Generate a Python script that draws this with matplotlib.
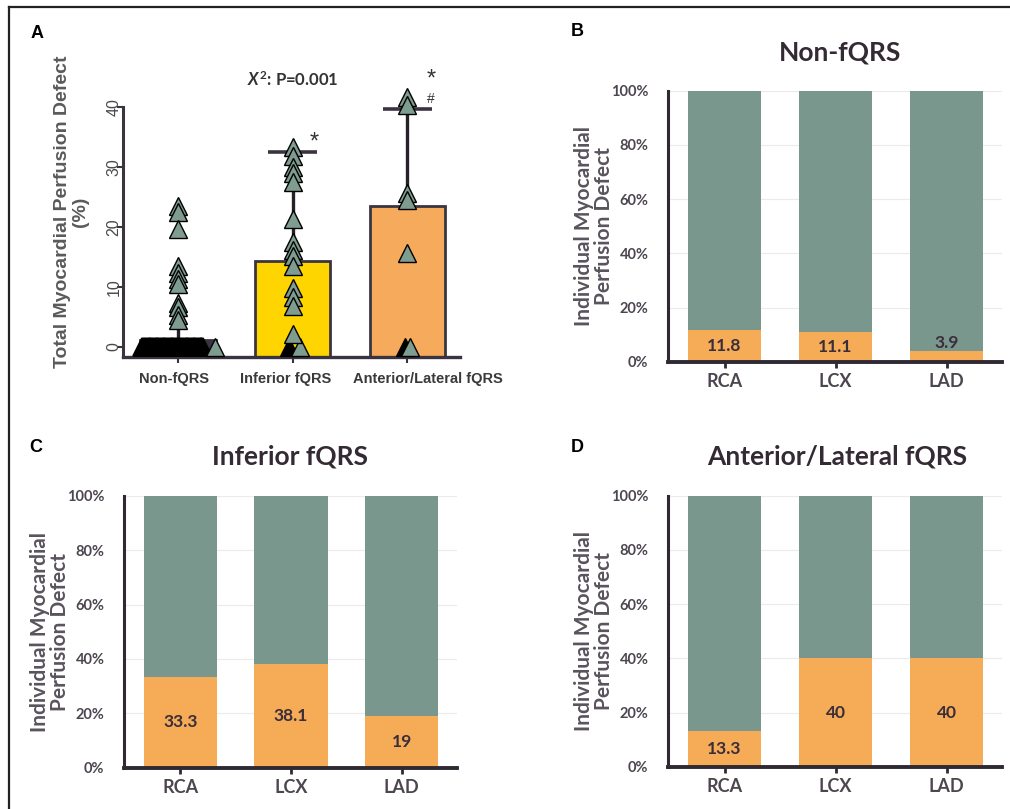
import numpy as np
import matplotlib
matplotlib.use("Agg")
import matplotlib.pyplot as plt
from matplotlib.lines import Line2D
from matplotlib.transforms import ScaledTranslation

plt.rcParams['mathtext.fontset'] = 'custom'
plt.rcParams['mathtext.it'] = 'Lato:italic:bold'
plt.rcParams['mathtext.rm'] = 'Lato:bold'

# ---------------- data ----------------
groups_a = ["Non-fQRS", "Inferior fQRS", "Anterior/Lateral fQRS"]
bar_means = [1.2, 14.4, 23.5]
bar_upper = [3.6, 32.6, 39.7]
bar_colors_a = ["#3b3440", "#FFD500", "#F6AA5B"]

non_fqrs_zero_count = 70
non_fqrs_values = [23.5, 22.5, 19.7, 13.5, 12.4, 11.3, 10.5, 7.4, 6.6, 5.4, 4.5]
inferior_zero_count = 2
inferior_values = [33.4, 31.8, 30.1, 29.0, 27.6, 21.3, 17.6, 16.2, 15.1, 13.5,
                   9.8, 8.4, 6.9, 2.1]
anterior_zero_count = 2
anterior_values = [41.7, 40.4, 25.7, 24.5, 15.7]

arteries = ["RCA", "LCX", "LAD"]
non_fqrs_pct = [11.8, 11.1, 3.9]
inferior_pct = [33.3, 38.1, 19]
anterior_pct = [13.3, 40, 40]
pct_ticks = [0, 20, 40, 60, 80, 100]

GREEN = "#7A978D"
ORANGE = "#F6AB57"
TRI = "#7E9C90"
DARK = "#2f2933"

W, H = 1010, 809
fig = plt.figure(figsize=(W / 100, H / 100), dpi=100)


def rect(l, r, top, bottom):
    return [l / W, 1 - bottom / H, (r - l) / W, (bottom - top) / H]


# border lines
fig.add_artist(Line2D([9 / W, 1], [1 - 7 / H, 1 - 7 / H], color="#222", lw=1.6))
fig.add_artist(Line2D([9 / W, 9 / W], [0, 1 - 7 / H], color="#222", lw=1.6))

# ---------------- panel A ----------------
ybot = -1.67
ytop = 44.0
axA = fig.add_axes(rect(123, 460, 347.3 - ytop * 6, 357))
xa = np.arange(len(groups_a))
axA.set_xlim(-0.48, 2.46)
axA.set_ylim(ybot, ytop)
axA.bar(xa, [m - ybot for m in bar_means], bottom=ybot, width=0.655,
        color=bar_colors_a, edgecolor="#3b3440", linewidth=2.0, zorder=2)
# error bars (upper only)
for i in range(3):
    axA.vlines(xa[i], bar_means[i], bar_upper[i], color="#262128",
               lw=2.4, zorder=3)
    if i > 0:
        axA.hlines(bar_upper[i], xa[i] - 0.215, xa[i] + 0.215,
                   color="#3b3440", lw=2.6, zorder=3)

ms = 13.5
# Non-fQRS zeros: dense overlapping pile
offs = np.linspace(-0.31, 0.22, non_fqrs_zero_count)
axA.plot(xa[0] + offs, np.zeros(non_fqrs_zero_count), '^', ms=ms,
         mfc="black", mec="black", mew=1.2, zorder=4, clip_on=False)
axA.plot([xa[0] + 0.32], [0], '^', ms=ms, mfc=TRI, mec="black", mew=1.0,
         zorder=5, clip_on=False)
axA.plot(np.full(len(non_fqrs_values), xa[0]), non_fqrs_values, '^', ms=ms,
         mfc=TRI, mec="black", mew=1.0, zorder=5, clip_on=False)
# Inferior
axA.plot([xa[1] - 0.03], [0], '^', ms=ms, mfc="black", mec="black", zorder=4)
axA.plot([xa[1] + 0.06], [0], '^', ms=ms, mfc=TRI, mec="black", mew=1.0, zorder=5)
axA.plot(np.full(len(inferior_values), xa[1]), inferior_values, '^', ms=ms,
         mfc=TRI, mec="black", mew=1.0, zorder=5, clip_on=False)
# Anterior
axA.plot([xa[2] - 0.02], [0], '^', ms=ms, mfc="black", mec="black", zorder=4)
axA.plot([xa[2] + 0.02], [0], '^', ms=ms, mfc=TRI, mec="black", mew=1.0, zorder=5)
axA.plot(np.full(len(anterior_values), xa[2]), anterior_values, '^', ms=ms,
         mfc=TRI, mec="black", mew=1.0, zorder=5, clip_on=False)

for s in ["top", "right"]:
    axA.spines[s].set_visible(False)
axA.spines["left"].set_bounds(ybot, 40)
axA.spines["left"].set_linewidth(2.2)
axA.spines["bottom"].set_linewidth(2.4)
axA.spines["left"].set_color("#3b3440")
axA.spines["bottom"].set_color("#3b3440")
axA.set_yticks([0, 10, 20, 30, 40])
axA.set_yticklabels(["0", "10", "20", "30", "40"], rotation=90, va="center",
                    family="Liberation Sans", fontsize=11.5, color="#4a4a4a")
axA.set_xticks(xa)
axA.set_xticklabels(groups_a, family="Liberation Sans", fontsize=10.5,
                    fontweight="bold", color="#3a3a3a")
axA.tick_params(axis="y", length=4, width=1.5, color="#3b3440", pad=-3)
axA.tick_params(axis="x", length=4, width=1.5, color="#3b3440", pad=7)
# offsets of x labels like the reference
shifts = [-4, -7, 21]
for lab, dx in zip(axA.get_xticklabels(), shifts):
    lab.set_transform(lab.get_transform() +
                      ScaledTranslation(dx / 100, 0, fig.dpi_scale_trans))
axA.set_ylabel("Total Myocardial Perfusion Defect\n(%)", family="Liberation Sans",
               fontsize=14, fontweight="bold", color="#5a5a5a",
               linespacing=1.1)
axA.yaxis.set_label_coords(-0.10, 0.53)
axA.set_facecolor("none")

fig.text(293 / W, 1 - 80 / H, r"$X^{2}$: P=0.001", ha="center", va="center",
         family="Lato", fontweight="bold", fontsize=12, color="#333333")
fig.text(314 / W, 1 - 143 / H, "*", ha="center", va="center",
         family="Liberation Sans", fontsize=17, color="#333333")
fig.text(431 / W, 1 - 80 / H, "*", ha="center", va="center",
         family="Liberation Sans", fontsize=17, color="#333333")
fig.text(431 / W, 1 - 99 / H, "#", ha="center", va="center",
         family="Liberation Sans", fontsize=10, color="#333333")
fig.text(37 / W, 1 - 34 / H, "A", ha="center", va="center",
         family="Liberation Sans", fontweight="bold", fontsize=13)


# ---------------- stacked panels ----------------
def stacked(box, pct, title, title_xy, label, label_xy, ylab_x):
    ax = fig.add_axes(rect(*box))
    x = np.arange(len(arteries))
    pct = np.array(pct, dtype=float)
    ax.set_xlim(-0.51, 2.5)
    ax.set_ylim(0, 100)
    ax.bar(x, pct, width=0.665, color=ORANGE, zorder=2)
    ax.bar(x, 100 - pct, bottom=pct, width=0.665, color=GREEN, zorder=2)
    for xi, v in zip(x, pct):
        ypos = v / 2 if v / 2 > 5 else v + 3
        txt = f"{v:g}"
        ax.text(xi, ypos, txt, ha="center", va="center", family="Lato",
                fontweight="bold", fontsize=12.5, color="#3a2e3a", zorder=3)
    ax.set_yticks(pct_ticks)
    ax.set_yticklabels([f"{t}%" for t in pct_ticks], family="Lato",
                       fontsize=10.5, fontweight="bold", color="#4d4650")
    ax.set_xticks(x)
    ax.set_xticklabels(arteries, family="Lato", fontsize=13,
                       fontweight="bold", color="#4d4650")
    ax.tick_params(axis="y", length=0, pad=14)
    ax.tick_params(axis="x", length=4, width=2, color=DARK, pad=4)
    ax.grid(axis="y", color="#efeaea", lw=0.8, zorder=0)
    for s in ["top", "right"]:
        ax.spines[s].set_visible(False)
    ax.spines["left"].set_linewidth(2.2)
    ax.spines["bottom"].set_linewidth(2.8)
    ax.spines["left"].set_color(DARK)
    ax.spines["bottom"].set_color(DARK)
    ax.set_axisbelow(True)
    fig.text(ylab_x / W, 1 - (box[2] + box[3]) / 2 / H,
             "Individual Myocardial\nPerfusion Defect", rotation=90,
             ha="center", va="center", family="Lato", fontsize=15,
             fontweight="bold", color="#5a535d", linespacing=1.0)
    fig.text(title_xy[0] / W, 1 - title_xy[1] / H, title, ha="center",
             va="center", family="Lato", fontweight="bold", fontsize=19,
             color="#332a33")
    fig.text(label_xy[0] / W, 1 - label_xy[1] / H, label, ha="center",
             va="center", family="Liberation Sans", fontweight="bold",
             fontsize=13)
    return ax


stacked((668, 1002, 90.7, 361.7), non_fqrs_pct, "Non-fQRS", (840, 52), "B",
        (577, 32), 594)
stacked((124, 457, 495.7, 767.7), inferior_pct, "Inferior fQRS", (290, 457), "C",
        (36, 447), 50)
stacked((668, 1002, 495.7, 766.7), anterior_pct, "Anterior/Lateral fQRS",
        (837, 457), "D", (577, 447), 594)

fig.savefig("out.png", dpi=100)
